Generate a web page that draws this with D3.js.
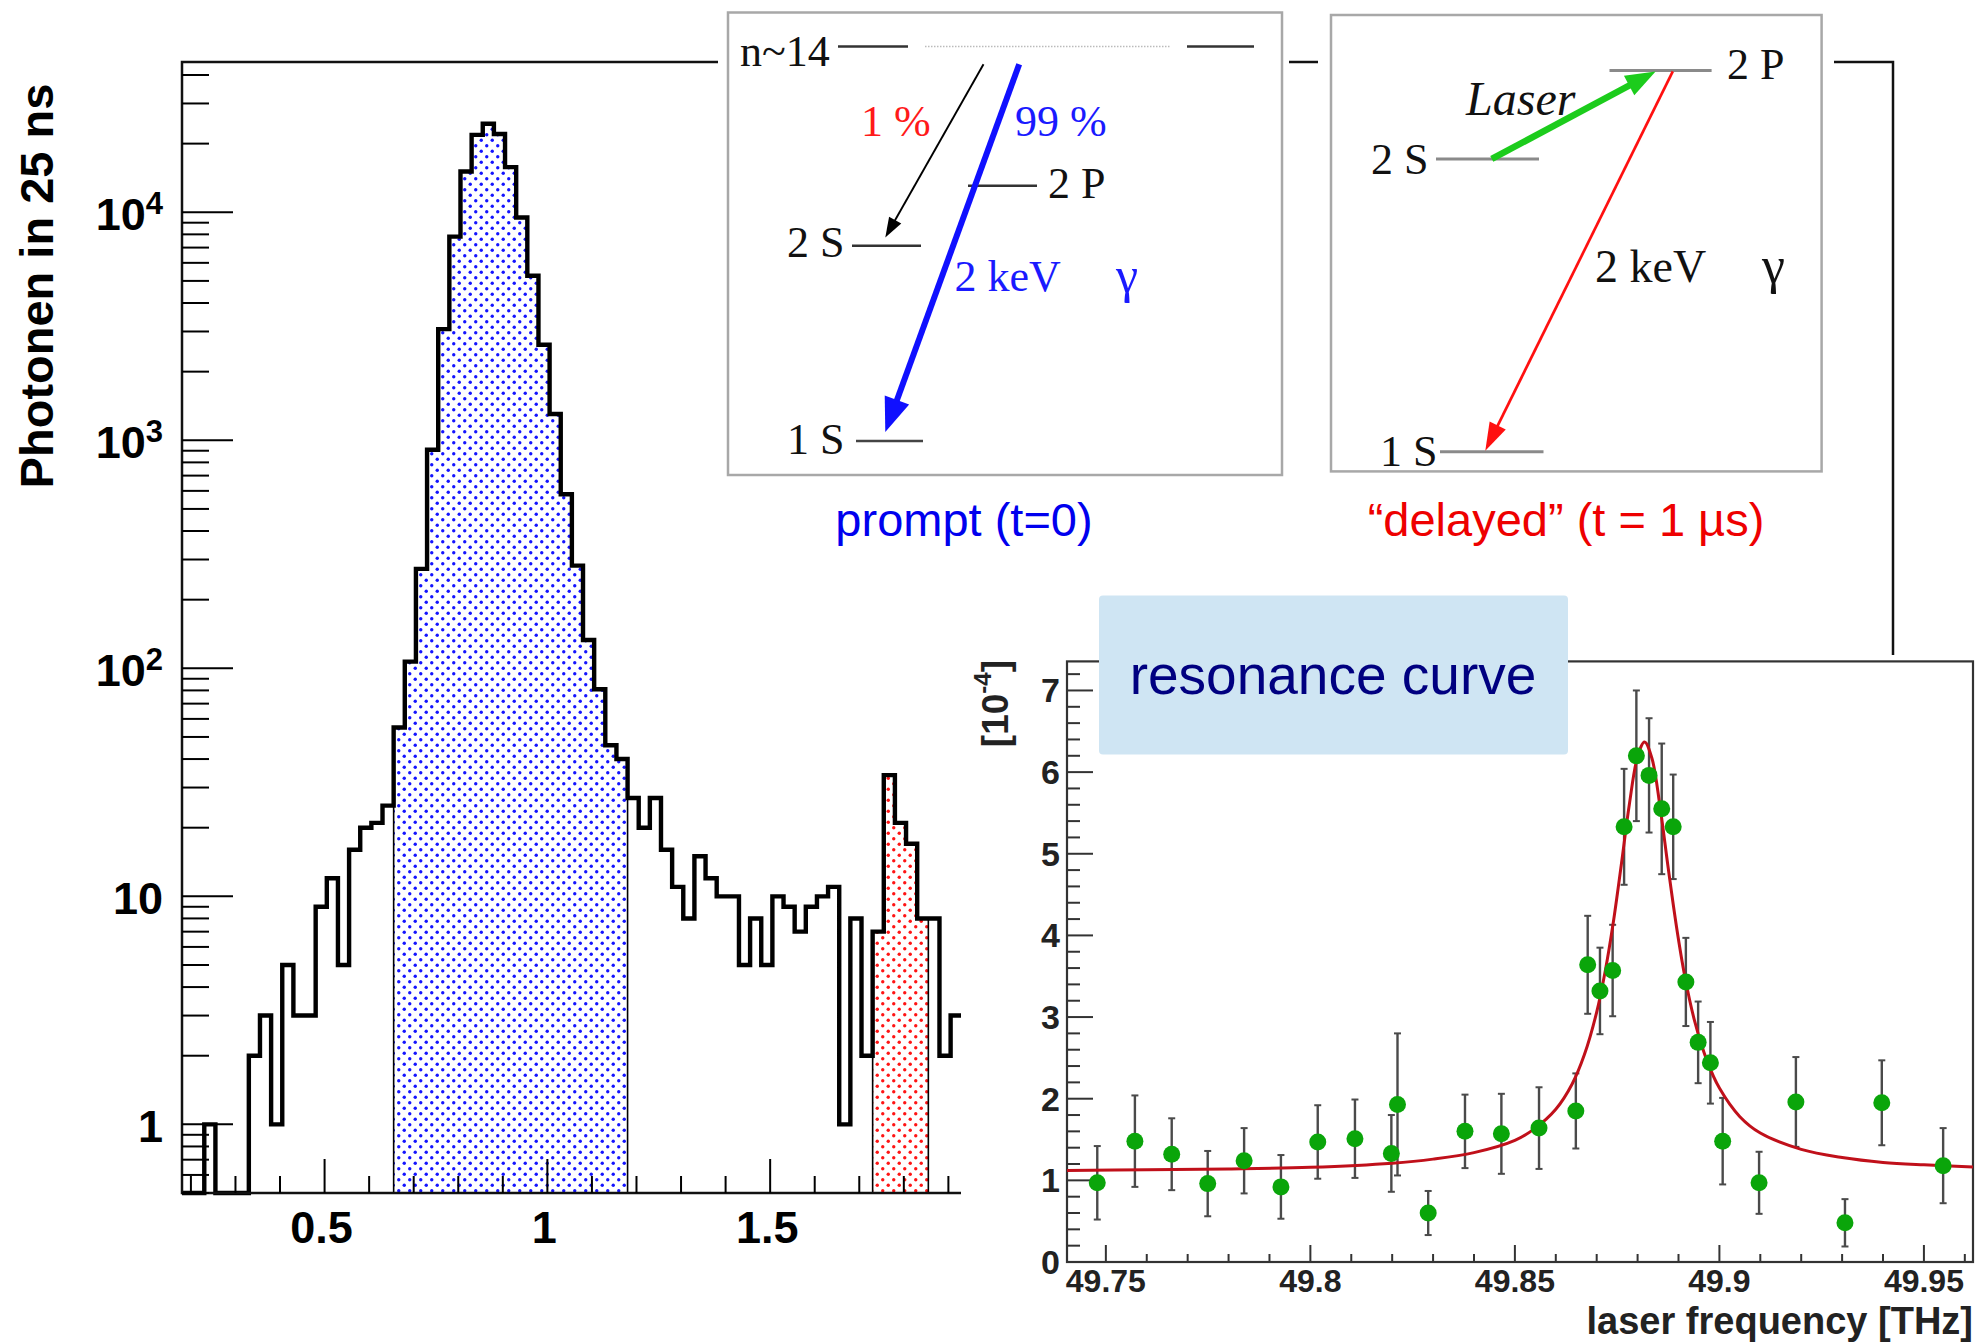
<!DOCTYPE html>
<html>
<head>
<meta charset="utf-8">
<script src="https://cdn.jsdelivr.net/npm/d3@7"></script>
<style>
  body { margin: 0; background: #fff; }
  svg { display: block; }
</style>
</head>
<body>
<div id="chart"></div>
<script>
// ---- histogram data (photons per 25 ns bin, bins start at 0.18 us) ----
var binStart = 0.18;
var binWidth = 0.025;
var counts = [0, 0, 1, 0, 0, 0, 2, 3, 1, 5, 3, 3, 9, 12, 5, 16, 20, 21, 25,
  55, 107, 273, 909, 3073, 7816, 15100, 21840, 24440, 22030, 15780, 9490, 5270,
  2624, 1304, 580, 282, 133, 81, 46, 40,
  27, 20, 27, 16, 11, 8, 15, 12, 10, 10, 5, 8, 5, 10, 9, 7, 9, 10, 11, 1, 8, 2,
  7, 34, 21, 17, 8, 8, 2, 3];
var promptBins = [19, 39];   // blue window
var delayedBins = [62, 66];  // red window
var histXTicks = [0.5, 1, 1.5];
var histXLabels = ["0.5", "1", "1.5"];
var histYTicks = [1, 10, 100, 1000, 10000];
var histYBase = ["1", "10", "10", "10", "10"];
var histYSup = ["", "", "2", "3", "4"];

// ---- resonance curve data ----
var freq = [49.7479, 49.7571, 49.7661, 49.7749, 49.7838, 49.7928, 49.8018, 49.8109,
  49.8198, 49.8213, 49.8288, 49.8378, 49.8467, 49.8559, 49.8649, 49.8678, 49.8708,
  49.8739, 49.8767, 49.8797, 49.8828, 49.8859, 49.8887, 49.8918, 49.8948, 49.8978,
  49.9008, 49.9097, 49.9187, 49.9307, 49.9397, 49.9547];
var ratio = [0.97, 1.48, 1.32, 0.96, 1.24, 0.92, 1.47, 1.51, 1.33, 1.93, 0.60, 1.60,
  1.57, 1.64, 1.85, 3.64, 3.32, 3.57, 5.33, 6.20, 5.96, 5.55, 5.33, 3.43, 2.69, 2.44,
  1.48, 0.97, 1.96, 0.48, 1.95, 1.18];
var ratioErr = [0.45, 0.56, 0.44, 0.40, 0.40, 0.39, 0.45, 0.48, 0.47, 0.87, 0.27, 0.45,
  0.49, 0.50, 0.46, 0.60, 0.53, 0.56, 0.71, 0.80, 0.70, 0.80, 0.64, 0.54, 0.50, 0.50,
  0.53, 0.38, 0.55, 0.29, 0.52, 0.46];
var fitFreq = [49.7405, 49.76, 49.78, 49.80, 49.82, 49.83, 49.84, 49.85, 49.855, 49.86,
  49.864, 49.867, 49.87, 49.872, 49.874, 49.876, 49.878, 49.88, 49.8817, 49.8835,
  49.8855, 49.8875, 49.8895, 49.8915, 49.894, 49.897, 49.90, 49.905, 49.91, 49.92,
  49.93, 49.94, 49.95, 49.962];
var fitRatio = [1.12, 1.13, 1.14, 1.16, 1.21, 1.26, 1.34, 1.49, 1.64, 1.87, 2.18, 2.54,
  3.06, 3.54, 4.14, 4.86, 5.61, 6.19, 6.37, 6.17, 5.57, 4.82, 4.11, 3.51, 2.94, 2.46,
  2.13, 1.78, 1.58, 1.38, 1.28, 1.22, 1.19, 1.165];
var resXTicks = [49.75, 49.8, 49.85, 49.9, 49.95];
var resXLabels = ["49.75", "49.8", "49.85", "49.9", "49.95"];
var resYTicks = [0, 1, 2, 3, 4, 5, 6, 7];

var W = 1976, H = 1342;
var sans = "'Liberation Sans', Arial, Helvetica, sans-serif";
var serif = "'Liberation Serif', 'Times New Roman', serif";

var svg = d3.select("#chart").append("svg")
  .attr("width", W).attr("height", H)
  .style("font-family", sans);

svg.append("rect").attr("width", W).attr("height", H).attr("fill", "#fff");

// dotted fill patterns
var defs = svg.append("defs");
function dotPattern(id, color) {
  var p = defs.append("pattern").attr("id", id)
    .attr("width", 11).attr("height", 11).attr("patternUnits", "userSpaceOnUse");
  p.append("rect").attr("width", 11).attr("height", 11).attr("fill", "#fff");
  p.append("circle").attr("cx", 2.75).attr("cy", 2.75).attr("r", 1.7).attr("fill", color);
  p.append("circle").attr("cx", 8.25).attr("cy", 8.25).attr("r", 1.7).attr("fill", color);
}
dotPattern("blueDots", "#1414ff");
dotPattern("redDots", "#ff1414");

// ================= histogram =================
var yMin = 0.5;
var hx = d3.scaleLinear().domain([0.18, 4.02]).range([182, 1893]);
var hy = d3.scaleLog().domain([yMin, 45600]).range([1193, 62]);

var hist = svg.append("g");

function binPoints(a, b) {
  var pts = [];
  for (var i = a; i <= b; i++) {
    var x0 = binStart + i * binWidth;
    var v = Math.max(counts[i], yMin);
    pts.push([x0, v], [x0 + binWidth, v]);
  }
  return pts;
}

var area = d3.area()
  .x(function(d) { return hx(d[0]); })
  .y0(hy(yMin))
  .y1(function(d) { return hy(d[1]); });

hist.append("path").datum(binPoints(promptBins[0], promptBins[1]))
  .attr("d", area).attr("fill", "url(#blueDots)")
  .attr("stroke", "#000").attr("stroke-width", 1.6);
hist.append("path").datum(binPoints(delayedBins[0], delayedBins[1]))
  .attr("d", area).attr("fill", "url(#redDots)")
  .attr("stroke", "#000").attr("stroke-width", 1.6);

var stepPts = [[binStart, yMin]].concat(binPoints(0, counts.length - 1));
hist.append("path").datum(stepPts)
  .attr("d", d3.line().x(function(d) { return hx(d[0]); }).y(function(d) { return hy(d[1]); }))
  .attr("fill", "none").attr("stroke", "#000").attr("stroke-width", 4.4)
  .attr("stroke-linejoin", "miter");

// frame
hist.append("rect").attr("x", hx(0.18)).attr("y", hy(45600))
  .attr("width", hx(4.02) - hx(0.18)).attr("height", hy(yMin) - hy(45600))
  .attr("fill", "none").attr("stroke", "#111").attr("stroke-width", 2.5);

// x ticks (every 0.1, long at 0.5)
for (var k = 2; k <= 19; k++) {
  var xv = k / 10;
  var major = k % 5 === 0;
  hist.append("line")
    .attr("x1", hx(xv)).attr("x2", hx(xv))
    .attr("y1", hy(yMin)).attr("y2", hy(yMin) - (major ? 34 : 17))
    .attr("stroke", "#000").attr("stroke-width", 2);
}
hist.selectAll(".hxl").data(histXTicks).enter().append("text")
  .attr("x", function(d) { return hx(d) - 3; }).attr("y", 1243)
  .attr("text-anchor", "middle").attr("font-size", 45).attr("font-weight", "bold")
  .text(function(d, i) { return histXLabels[i]; });

// y ticks (log)
for (var dec = -1; dec <= 4; dec++) {
  for (var m = 1; m <= 9; m++) {
    var yv = m * Math.pow(10, dec);
    if (yv < yMin || yv > 45600) continue;
    hist.append("line")
      .attr("x1", hx(0.18)).attr("x2", hx(0.18) + (m === 1 ? 51 : 27))
      .attr("y1", hy(yv)).attr("y2", hy(yv))
      .attr("stroke", "#000").attr("stroke-width", 2);
  }
}
histYTicks.forEach(function(v, i) {
  var t = hist.append("text")
    .attr("x", 163).attr("y", hy(v) + 18)
    .attr("text-anchor", "end").attr("font-size", 45).attr("font-weight", "bold");
  t.append("tspan").text(histYBase[i]);
  if (histYSup[i]) t.append("tspan").attr("font-size", 31).attr("dy", -16).text(histYSup[i]);
});

hist.append("text")
  .attr("transform", "translate(53,286) rotate(-90)")
  .attr("text-anchor", "middle").attr("font-size", 47).attr("font-weight", "bold")
  .text("Photonen in 25 ns");

// ================= level schemes =================
function arrow(g, x1, y1, x2, y2, color, w, hl, hw) {
  var dx = x2 - x1, dy = y2 - y1, L = Math.sqrt(dx * dx + dy * dy);
  var ux = dx / L, uy = dy / L;
  var bx = x2 - ux * hl, by = y2 - uy * hl;
  g.append("line").attr("x1", x1).attr("y1", y1)
    .attr("x2", bx + ux * 2).attr("y2", by + uy * 2)
    .attr("stroke", color).attr("stroke-width", w);
  g.append("path")
    .attr("d", "M" + x2 + "," + y2 + "L" + (bx - uy * hw / 2) + "," + (by + ux * hw / 2) +
      "L" + (bx + uy * hw / 2) + "," + (by - ux * hw / 2) + "Z")
    .attr("fill", color);
}
function label(g, x, y, txt, color, size, style) {
  return g.append("text").attr("x", x).attr("y", y)
    .attr("font-family", serif).attr("font-size", size || 44)
    .attr("font-style", style || "normal")
    .attr("fill", color || "#111").text(txt);
}
function level(g, x1, x2, y, color, w) {
  g.append("line").attr("x1", x1).attr("x2", x2).attr("y1", y).attr("y2", y)
    .attr("stroke", color).attr("stroke-width", w || 2.5);
}

// prompt panel
var p1 = svg.append("g");
p1.append("rect").attr("x", 718).attr("y", 0).attr("width", 571).attr("height", 560).attr("fill", "#fff");
p1.append("rect").attr("x", 728).attr("y", 12.5).attr("width", 554).attr("height", 462.5)
  .attr("fill", "#fff").attr("stroke", "#a8a8a8").attr("stroke-width", 2.5);
label(p1, 740, 66, "n~14");
level(p1, 838, 908, 46.4, "#333");
p1.append("line").attr("x1", 925).attr("x2", 1171).attr("y1", 46.4).attr("y2", 46.4)
  .attr("stroke", "#bbb").attr("stroke-width", 1.5).attr("stroke-dasharray", "1.5,1.5");
level(p1, 1187, 1254, 46.4, "#333");
label(p1, 861, 136, "1 %", "#ff1a1a");
label(p1, 1015, 136, "99 %", "#1a1aff");
level(p1, 968, 1037, 185.7, "#333");
label(p1, 1048, 198, "2 P");
level(p1, 852, 921, 245.7, "#333");
label(p1, 787, 257, "2 S");
level(p1, 856, 923, 441, "#444");
label(p1, 787, 453.6, "1 S");
arrow(p1, 983.5, 64.3, 885.3, 237.5, "#000", 1.9, 20, 14);
arrow(p1, 1019.2, 64.3, 885.3, 432, "#1010ff", 6, 34, 26);
label(p1, 954.5, 291, "2 keV", "#1a1aff");
label(p1, 1116, 292, "\u03b3", "#1a1aff", 50);
p1.append("text").attr("x", 964).attr("y", 535.7).attr("text-anchor", "middle")
  .attr("font-size", 47).attr("fill", "#0000ee").text("prompt (t=0)");

// delayed panel
var p2 = svg.append("g");
p2.append("rect").attr("x", 1318).attr("y", 0).attr("width", 516).attr("height", 560).attr("fill", "#fff");
p2.append("rect").attr("x", 1331).attr("y", 15).attr("width", 490.6).attr("height", 456.4)
  .attr("fill", "#fff").attr("stroke", "#a8a8a8").attr("stroke-width", 2.5);
level(p2, 1609.5, 1711.6, 70.4, "#8a8a8a", 3);
label(p2, 1727, 79.3, "2 P");
level(p2, 1436, 1539, 158.9, "#8a8a8a", 3);
label(p2, 1371, 174, "2 S");
level(p2, 1440, 1543.5, 451.8, "#8a8a8a", 3);
label(p2, 1380, 466, "1 S");
label(p2, 1466, 115, "Laser", "#111", 48, "italic");
arrow(p2, 1491.8, 158.9, 1655.6, 71.4, "#1ccc1c", 6.5, 30, 22);
arrow(p2, 1672.8, 71.4, 1485.3, 450.7, "#ff1010", 2.7, 28, 18);
label(p2, 1595, 282, "2 keV", "#111", 46);
label(p2, 1762, 283, "\u03b3", "#111", 52);
p2.append("text").attr("x", 1566).attr("y", 535.7).attr("text-anchor", "middle")
  .attr("font-size", 47).attr("fill", "#ee0000").text("\u201cdelayed\u201d (t = 1 \u00b5s)");

// ================= resonance curve =================
var rx = d3.scaleLinear().domain([49.7405, 49.962]).range([1067, 1973]);
var ry = d3.scaleLinear().domain([0, 7.356]).range([1262, 661.4]);

var res = svg.append("g");
res.append("rect").attr("x", 961).attr("y", 655).attr("width", W - 961).attr("height", H - 655)
  .attr("fill", "#fff");
res.append("rect").attr("x", rx(49.7405)).attr("y", ry(7.356))
  .attr("width", rx(49.962) - rx(49.7405)).attr("height", ry(0) - ry(7.356))
  .attr("fill", "#fff").attr("stroke", "#333").attr("stroke-width", 2.2);

// ticks
for (var j = 0; j <= 21; j++) {
  var fv = 49.75 + j * 0.01;
  res.append("line").attr("x1", rx(fv)).attr("x2", rx(fv))
    .attr("y1", ry(0)).attr("y2", ry(0) - (j % 5 === 0 ? 17 : 8))
    .attr("stroke", "#333").attr("stroke-width", 2);
}
for (var q = 0; q <= 36; q++) {
  var rv = q * 0.2;
  res.append("line").attr("x1", rx(49.7405)).attr("x2", rx(49.7405) + (q % 5 === 0 ? 26 : 13))
    .attr("y1", ry(rv)).attr("y2", ry(rv))
    .attr("stroke", "#333").attr("stroke-width", 2);
}
res.selectAll(".rxl").data(resXTicks).enter().append("text")
  .attr("x", function(d) { return rx(d); }).attr("y", 1292)
  .attr("text-anchor", "middle").attr("font-size", 32).attr("font-weight", "bold")
  .attr("fill", "#222")
  .text(function(d, i) { return resXLabels[i]; });
res.selectAll(".ryl").data(resYTicks).enter().append("text")
  .attr("x", 1060).attr("y", function(d) { return ry(d) + 12; })
  .attr("text-anchor", "end").attr("font-size", 34).attr("font-weight", "bold")
  .attr("fill", "#222")
  .text(function(d) { return d; });
res.append("text").attr("x", 1973).attr("y", 1334).attr("text-anchor", "end")
  .attr("font-size", 38).attr("font-weight", "bold").attr("fill", "#222")
  .text("laser frequency [THz]");
var yt = res.append("text").attr("transform", "translate(1008,660) rotate(-90)")
  .attr("text-anchor", "end").attr("font-size", 37).attr("font-weight", "bold")
  .attr("fill", "#222");
yt.append("tspan").text("[10");
yt.append("tspan").attr("font-size", 24).attr("dy", -17).text("-4");
yt.append("tspan").attr("dy", 17).text("]");

// error bars
freq.forEach(function(f, i) {
  var x = rx(f), y1 = ry(ratio[i] + ratioErr[i]), y2 = ry(ratio[i] - ratioErr[i]);
  res.append("line").attr("x1", x).attr("x2", x).attr("y1", y1).attr("y2", y2)
    .attr("stroke", "#4a4a4a").attr("stroke-width", 2.4);
  res.append("line").attr("x1", x - 3.5).attr("x2", x + 3.5).attr("y1", y1).attr("y2", y1)
    .attr("stroke", "#4a4a4a").attr("stroke-width", 2);
  res.append("line").attr("x1", x - 3.5).attr("x2", x + 3.5).attr("y1", y2).attr("y2", y2)
    .attr("stroke", "#4a4a4a").attr("stroke-width", 2);
});

// fit
res.append("path").datum(d3.zip(fitFreq, fitRatio))
  .attr("d", d3.line().curve(d3.curveCatmullRom)
    .x(function(d) { return rx(d[0]); }).y(function(d) { return ry(d[1]); }))
  .attr("fill", "none").attr("stroke", "#c0101a").attr("stroke-width", 3);

// points
res.selectAll(".pt").data(freq).enter().append("circle")
  .attr("cx", function(d) { return rx(d); })
  .attr("cy", function(d, i) { return ry(ratio[i]); })
  .attr("r", 8.5).attr("fill", "#0aa50a");

// label box
res.append("rect").attr("x", 1099).attr("y", 595.5).attr("width", 469).attr("height", 159)
  .attr("rx", 4).attr("fill", "#cfe5f3");
res.append("text").attr("x", 1333).attr("y", 694).attr("text-anchor", "middle")
  .attr("font-size", 55).attr("fill", "#000080").text("resonance curve");
</script>
</body>
</html>
